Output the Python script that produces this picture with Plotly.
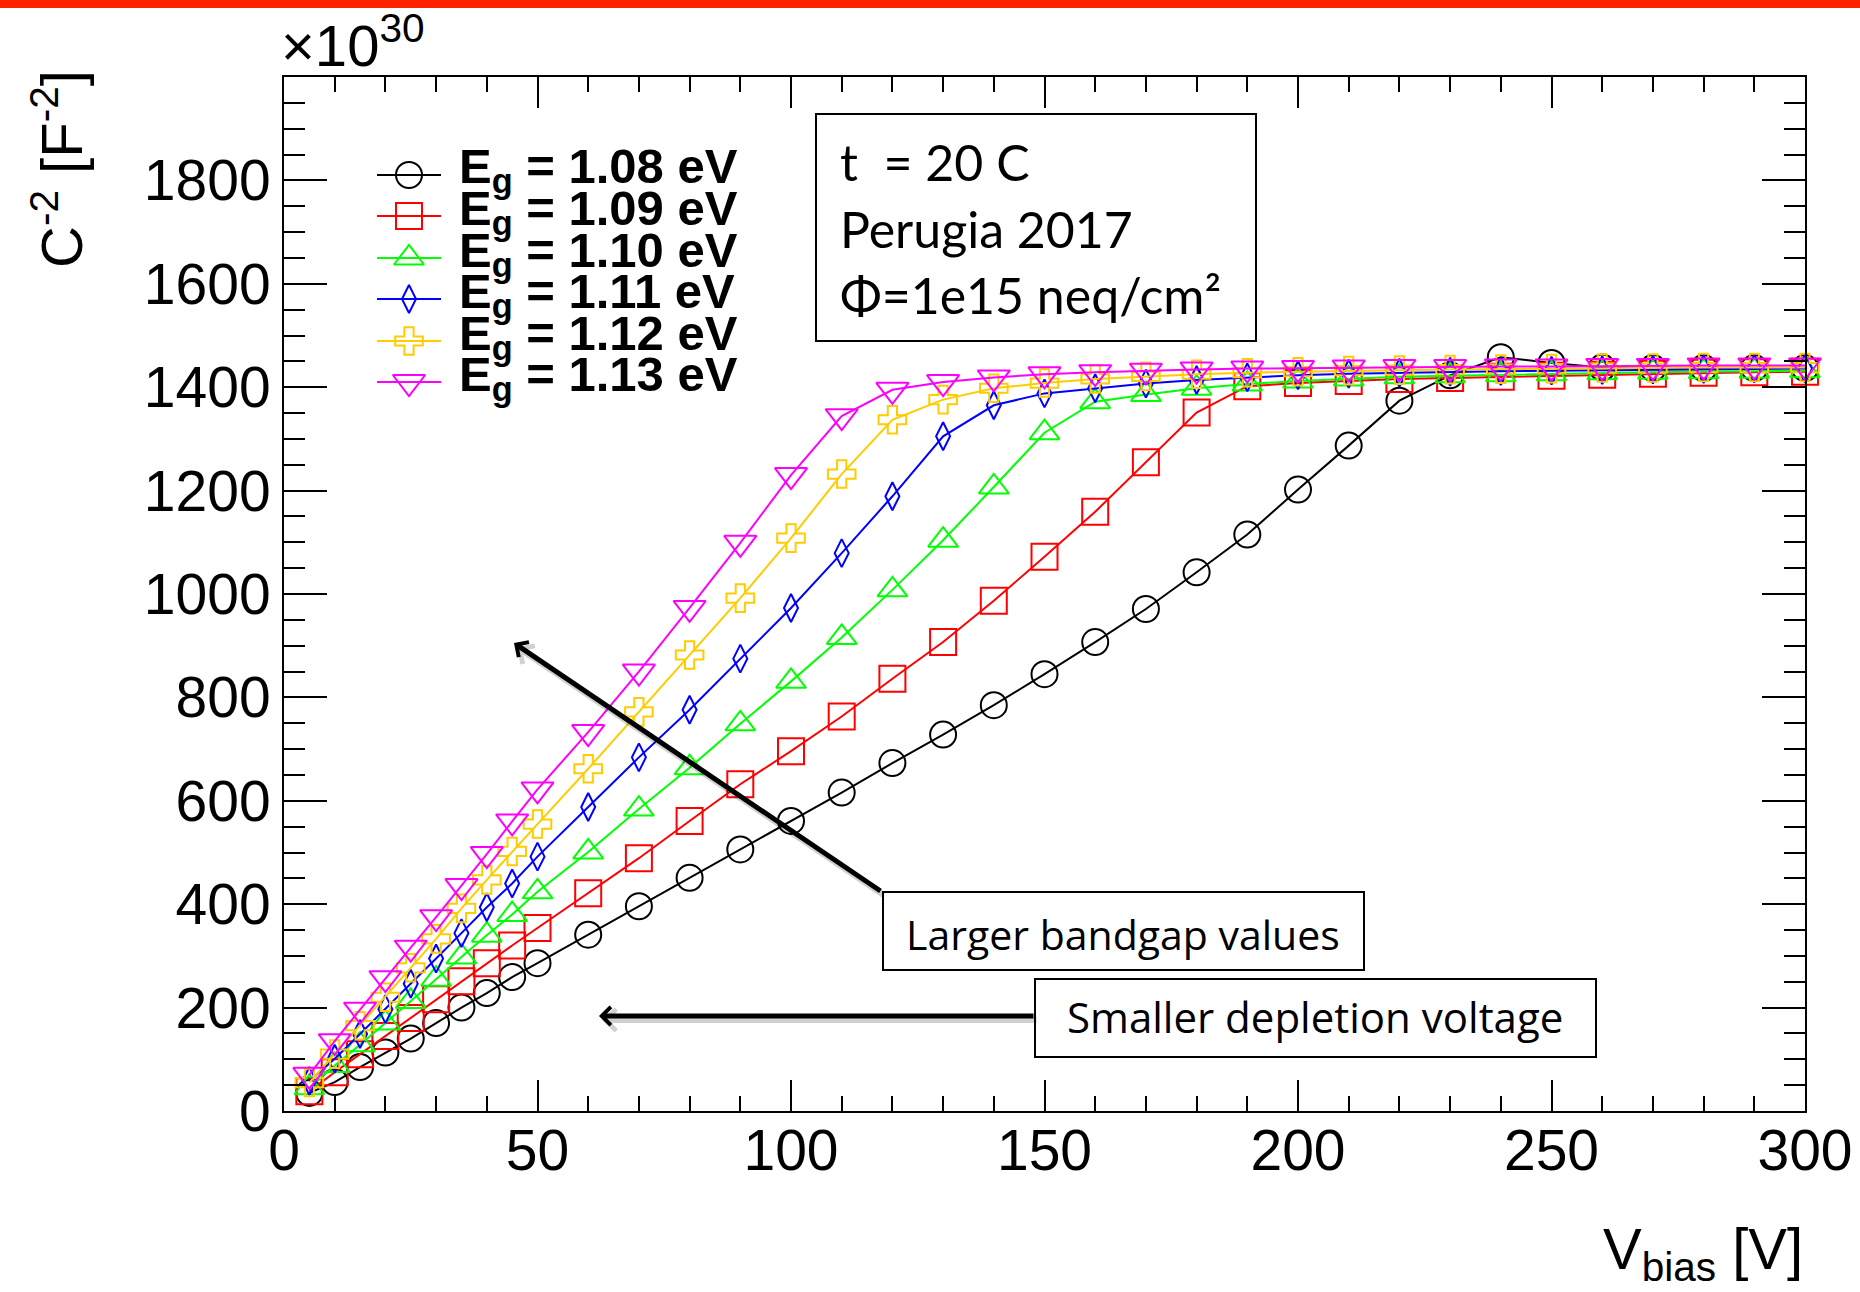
import plotly.graph_objects as go

# ---------------- data (C^-2 in units of 1e30 F^-2) ----------------
vbias = [5, 10, 15, 20, 25, 30, 35, 40, 45, 50, 60, 70, 80, 90, 100, 110, 120, 130, 140, 150,
         160, 170, 180, 190, 200, 210, 220, 230, 240, 250, 260, 270, 280, 290, 300]

c2_eg108 = [35, 56, 85, 113, 140, 170, 200, 228, 259, 286, 341, 396, 451, 506, 561,
            616, 673, 728, 785, 845, 907, 971, 1042, 1115, 1202, 1287, 1374, 1423, 1458, 1447,
            1438, 1437, 1437, 1437, 1437]
c2_eg109 = [38, 75, 110, 145, 180, 216, 251, 286, 320, 354, 421, 489, 561, 632, 696,
            763, 836, 907, 987, 1072, 1159, 1255, 1351, 1402, 1408, 1412, 1416, 1418, 1420, 1422,
            1424, 1426, 1428, 1429, 1430]
c2_eg110 = [45, 88, 128, 170, 212, 255, 298, 340, 380, 424, 501, 584, 664, 749, 831,
            916, 1008, 1104, 1207, 1312, 1372, 1386, 1398, 1406, 1412, 1416, 1420, 1422, 1424, 1426,
            1428, 1429, 1430, 1431, 1432]
c2_eg111 = [58, 101, 149, 197, 246, 295, 344, 394, 440, 492, 588, 684, 776, 875, 973,
            1079, 1189, 1305, 1365, 1388, 1398, 1407, 1414, 1419, 1423, 1426, 1428, 1430, 1431, 1432,
            1433, 1434, 1435, 1436, 1436]
c2_eg112 = [55, 110, 165, 220, 277, 333, 392, 447, 502, 555, 662, 772, 882, 992, 1108,
            1232, 1337, 1376, 1398, 1408, 1416, 1421, 1425, 1428, 1430, 1432, 1433, 1434, 1435, 1436,
            1437, 1437, 1438, 1438, 1438]
c2_eg113 = [70, 135, 196, 257, 316, 375, 435, 497, 560, 622, 733, 850, 973, 1099, 1230,
            1344, 1395, 1410, 1419, 1425, 1429, 1432, 1434, 1436, 1437, 1438, 1439, 1439, 1440, 1440,
            1441, 1441, 1442, 1442, 1442]

series_labels = ["1.08", "1.09", "1.10", "1.11", "1.12", "1.13"]
series_values = [c2_eg108, c2_eg109, c2_eg110, c2_eg111, c2_eg112, c2_eg113]
series_colors = ["#000000", "#FF0000", "#00FF00", "#0000FF", "#FFCC00", "#FF00FF"]
series_symbols = ["circle-open", "square-open", "triangle-up-open", "diamond-tall-open",
                  "cross-open", "triangle-down-open"]
series_sizes = [26, 26, 26, 20, 23, 28]

x_ticks = [0, 50, 100, 150, 200, 250, 300]
y_ticks = [0, 200, 400, 600, 800, 1000, 1200, 1400, 1600, 1800]

# ---------------- geometry ----------------
W, H = 1860, 1292
L, R, T, B = 284, 1805, 77, 1111   # plot area in pixels


def xp(px):
    return (px - L) / (R - L)


def yp(py):
    return (B - py) / (B - T)


AX_FONT = "Liberation Sans, Arial, Helvetica, sans-serif"
BOX_FONT = "Lato, 'Open Sans', sans-serif"

fig = go.Figure()

for lab, vals, col, sym, sz in zip(series_labels, series_values, series_colors,
                                    series_symbols, series_sizes):
    fig.add_trace(go.Scatter(
        x=vbias, y=vals, mode="lines+markers", name="E_g = " + lab + " eV",
        line=dict(color=col, width=2),
        marker=dict(symbol=sym, size=sz, color=col, line=dict(color=col, width=2)),
        cliponaxis=False, showlegend=False))

# ---------------- hand-made ROOT-like legend ----------------
leg_y = [175, 216, 258, 299, 341, 382]
for lab, col, sym, sz, ly in zip(series_labels, series_colors, series_symbols,
                                 series_sizes, leg_y):
    fig.add_trace(go.Scatter(x=[377, 441], y=[ly, ly], xaxis="x2", yaxis="y2",
                             mode="lines", line=dict(color=col, width=2),
                             showlegend=False, hoverinfo="skip", cliponaxis=False))
    fig.add_trace(go.Scatter(x=[409], y=[ly], xaxis="x2", yaxis="y2", mode="markers",
                             marker=dict(symbol=sym, size=sz, color=col,
                                         line=dict(color=col, width=2)),
                             showlegend=False, hoverinfo="skip", cliponaxis=False))

annotations = []
for lab, ly in zip(series_labels, leg_y):
    annotations.append(dict(
        x=xp(457), y=yp(ly - 5), xref="paper", yref="paper", xanchor="left", yanchor="middle",
        text="<b>E<sub>g</sub> = " + lab + " eV</b>", showarrow=False,
        font=dict(family=AX_FONT, size=49, color="black")))

# ---------------- axis titles / exponent ----------------
annotations.append(dict(x=1.0, y=yp(1214), xref="paper", yref="paper", xanchor="right",
                        yanchor="top", text="V<sub>bias</sub> [V]", showarrow=False,
                        font=dict(family=AX_FONT, size=58, color="black")))
annotations.append(dict(x=xp(57), y=yp(169), xref="paper", yref="paper", xanchor="center",
                        yanchor="middle", textangle=-90,
                        text="C<sup>-2</sup> [F<sup>-2</sup>]", showarrow=False,
                        font=dict(family=AX_FONT, size=58, color="black")))
annotations.append(dict(x=xp(279), y=yp(80), xref="paper", yref="paper", xanchor="left",
                        yanchor="bottom", text="×10<sup>30</sup>", showarrow=False,
                        font=dict(family=AX_FONT, size=58, color="black")))

# ---------------- info box text ----------------
info_lines = ["t\u00a0 = 20 C", "Perugia 2017", "Φ=1e15 neq/cm²"]
info_y = [164, 231, 297]
for txt, ty in zip(info_lines, info_y):
    annotations.append(dict(x=xp(838), y=yp(ty - 2), xref="paper", yref="paper",
                            xanchor="left", yanchor="middle", text=txt, showarrow=False,
                            font=dict(family=BOX_FONT, size=50, color="black")))

annotations.append(dict(x=xp(1123), y=yp(934), xref="paper", yref="paper",
                        xanchor="center", yanchor="middle", text="Larger bandgap values",
                        showarrow=False,
                        font=dict(family="'Open Sans', sans-serif", size=41, color="black")))
annotations.append(dict(x=xp(1315), y=yp(1016), xref="paper", yref="paper",
                        xanchor="center", yanchor="middle", text="Smaller depletion voltage",
                        showarrow=False,
                        font=dict(family="'Open Sans', sans-serif", size=42, color="black")))

# ---------------- arrows (with soft shadow) ----------------
arrows = [((514, 643), (882, 892)), ((599, 1016), (1035, 1016))]
for (hx, hy), (tx, ty) in arrows:
    annotations.append(dict(x=hx + 3, y=hy + 4, ax=tx + 3, ay=ty + 4, xref="x2", yref="y2",
                            axref="x2", ayref="y2", text="", showarrow=True, arrowhead=4,
                            arrowsize=0.7, arrowwidth=6, arrowcolor="rgba(0,0,0,0.18)",
                            standoff=0, startstandoff=0))
for (hx, hy), (tx, ty) in arrows:
    annotations.append(dict(x=hx, y=hy, ax=tx, ay=ty, xref="x2", yref="y2",
                            axref="x2", ayref="y2", text="", showarrow=True, arrowhead=4,
                            arrowsize=0.7, arrowwidth=5, arrowcolor="black",
                            standoff=0, startstandoff=0))

shapes = [
    dict(type="rect", xref="paper", yref="paper", x0=-0.3, x1=1.1, y0=yp(8), y1=yp(-4),
         line=dict(width=0), fillcolor="#FF2200", layer="above"),
    dict(type="rect", xref="paper", yref="paper", x0=xp(816), x1=xp(1256), y0=yp(341),
         y1=yp(114), line=dict(color="black", width=2), fillcolor="white", layer="below"),
    dict(type="rect", xref="paper", yref="paper", x0=xp(883), x1=xp(1364), y0=yp(970),
         y1=yp(892), line=dict(color="black", width=2), fillcolor="white", layer="below"),
    dict(type="rect", xref="paper", yref="paper", x0=xp(1035), x1=xp(1596), y0=yp(1057),
         y1=yp(979), line=dict(color="black", width=2), fillcolor="white", layer="below"),
]

fig.update_layout(
    width=W, height=H,
    margin=dict(l=L, r=W - R, t=T, b=H - B, pad=0),
    paper_bgcolor="white", plot_bgcolor="white",
    showlegend=False,
    annotations=annotations,
    shapes=shapes,
    xaxis=dict(range=[0, 300], tickvals=x_ticks, ticktext=[str(v) for v in x_ticks],
               ticks="inside", ticklen=31, tickwidth=2, tickcolor="black",
               showline=True, linewidth=2, linecolor="black", mirror="allticks",
               showgrid=False, zeroline=False, automargin=False, ticklabelstandoff=-11,
               tickfont=dict(family=AX_FONT, size=57, color="black"),
               minor=dict(ticks="inside", ticklen=15, tickwidth=2, tickcolor="black",
                          dtick=10, tick0=0, showgrid=False)),
    yaxis=dict(range=[0, 2000], tickvals=y_ticks, ticktext=[str(v) for v in y_ticks],
               ticks="inside", ticklen=43, tickwidth=2, tickcolor="black",
               showline=True, linewidth=2, linecolor="black", mirror="allticks",
               showgrid=False, zeroline=False, automargin=False,
               tickfont=dict(family=AX_FONT, size=57, color="black"),
               minor=dict(ticks="inside", ticklen=21, tickwidth=2, tickcolor="black",
                          dtick=50, tick0=0, showgrid=False)),
    xaxis2=dict(range=[L, R], overlaying="x", anchor="y2", visible=False, fixedrange=True),
    yaxis2=dict(range=[B, T], overlaying="y", anchor="x2", visible=False, fixedrange=True),
)

fig.write_html("out.html")
